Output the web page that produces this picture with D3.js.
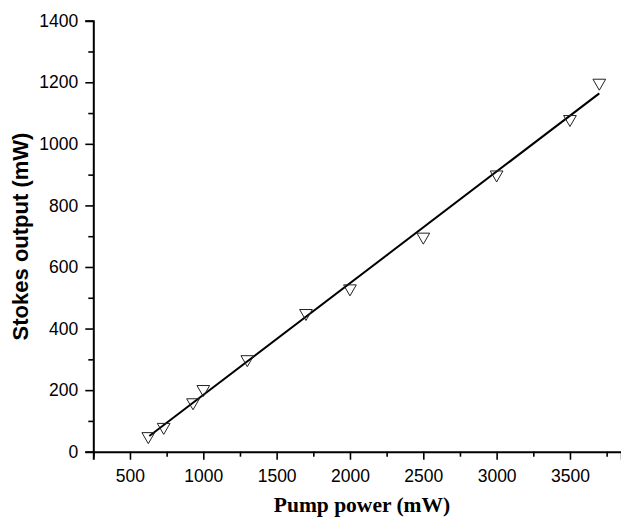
<!DOCTYPE html>
<html>
<head>
<meta charset="utf-8">
<script src="https://cdn.jsdelivr.net/npm/d3@7"></script>
<style>
  body { margin: 0; background: #fff; }
  svg { display: block; }
</style>
</head>
<body>
<div id="chart"></div>
<script>
// measured points (pump power mW, stokes output mW)
const pump = [625, 730, 930, 1000, 1300, 1700, 2000, 2500, 3000, 3500, 3700];
const stokes = [50, 80, 160, 203, 300, 450, 530, 698, 900, 1080, 1198];

const fitX = [632, 3700];
const fitY = [51, 1164];

const xMajor = [500, 1000, 1500, 2000, 2500, 3000, 3500];
const xMinor = [250, 750, 1250, 1750, 2250, 2750, 3250, 3750];
const yMajor = [0, 200, 400, 600, 800, 1000, 1200, 1400];
const yMinor = [100, 300, 500, 700, 900, 1100, 1300];

const width = 621, height = 518;

const svg = d3.select('#chart')
    .append('svg')
    .attr('width', width)
    .attr('height', height);

const x = d3.scaleLinear().domain([250, 3850]).range([93.3, 621.3]);
const y = d3.scaleLinear().domain([0, 1400]).range([451.7, 20.7]);

const tickFont = 'Liberation Sans, Arial, sans-serif';

// y axis
svg.append('g')
    .attr('transform', `translate(${x(250)},0)`)
    .call(d3.axisLeft(y).tickValues(yMajor).tickSize(8).tickPadding(7).tickFormat(d3.format('d')));
svg.append('g')
    .attr('transform', `translate(${x(250)},0)`)
    .call(d3.axisLeft(y).tickValues(yMinor).tickSize(5).tickFormat(''))
    .select('.domain').remove();

// x axis
svg.append('g')
    .attr('transform', `translate(0,${y(0)})`)
    .call(d3.axisBottom(x).tickValues(xMajor).tickSize(8).tickPadding(10).tickFormat(d3.format('d')));
svg.append('g')
    .attr('transform', `translate(0,${y(0)})`)
    .call(d3.axisBottom(x).tickValues(xMinor).tickSize(5).tickFormat(''))
    .select('.domain').remove();

svg.selectAll('.domain').attr('stroke', '#000').attr('stroke-width', 2);
svg.selectAll('.tick line').attr('stroke', '#000').attr('stroke-width', 1.6);
svg.selectAll('.tick text')
    .attr('fill', '#000')
    .style('font-family', tickFont)
    .style('font-size', '17.5px');

// fit line
const line = d3.line().x(d => x(d[0])).y(d => y(d[1]));
svg.append('path')
    .datum(fitX.map((v, i) => [v, fitY[i]]))
    .attr('d', line)
    .attr('fill', 'none')
    .attr('stroke', '#000')
    .attr('stroke-width', 2);

// down triangles
const tri = d3.symbol().type(d3.symbolTriangle).size(70);
svg.selectAll('.pt')
    .data(pump.map((v, i) => [v, stokes[i]]))
    .enter()
    .append('path')
    .attr('class', 'pt')
    .attr('d', tri)
    .attr('transform', d => `translate(${x(d[0])},${y(d[1])}) rotate(180)`)
    .attr('fill', 'none')
    .attr('stroke', '#222')
    .attr('stroke-width', 1);

// axis titles
svg.append('text')
    .attr('transform', 'translate(28,236.5) rotate(-90)')
    .attr('text-anchor', 'middle')
    .style('font-family', tickFont)
    .style('font-weight', 'bold')
    .style('font-size', '22px')
    .text('Stokes output (mW)');

svg.append('text')
    .attr('x', 362)
    .attr('y', 512)
    .attr('text-anchor', 'middle')
    .style('font-family', 'Liberation Serif, Times New Roman, serif')
    .style('font-weight', 'bold')
    .style('font-size', '21.5px')
    .text('Pump power (mW)');
</script>
</body>
</html>
